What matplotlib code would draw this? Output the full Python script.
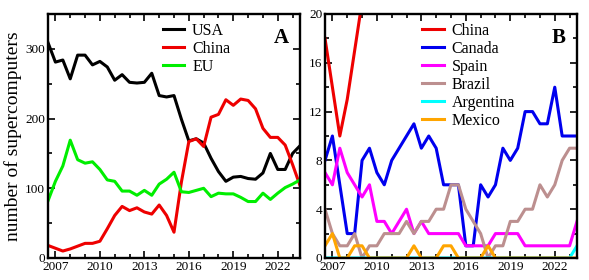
import numpy as np
import matplotlib
matplotlib.use("Agg")
from matplotlib import pyplot as plt
from matplotlib.ticker import MultipleLocator

plt.rcParams["font.family"] = ["Liberation Serif", "DejaVu Serif"]

# TOP500 lists, two per year
years = np.arange(2006.5, 2024.0, 0.5)

# panel A
usa = [309, 281, 284, 257, 291, 291, 277, 282, 274, 255, 263, 252, 251, 252, 265, 233, 231, 233,
       199, 168, 171, 165, 143, 124, 110, 116, 117, 114, 113, 122, 150, 127, 127, 150, 161]
china = [18, 14, 10, 13, 17, 21, 21, 24, 42, 61, 74, 68, 72, 66, 63, 76, 61, 37,
         109, 167, 171, 160, 202, 206, 227, 219, 228, 226, 214, 186, 173, 173, 162, 134, 104]
eu = [82, 110, 132, 169, 141, 136, 138, 127, 112, 110, 96, 96, 90, 97, 90, 106, 113, 123,
      95, 94, 97, 100, 88, 93, 92, 92, 87, 81, 81, 93, 84, 93, 101, 106, 112]

# panel B
canada = [8, 10, 6, 2, 2, 8, 9, 7, 6, 8, 9, 10, 11, 9, 10, 9, 6, 6,
          6, 1, 1, 6, 5, 6, 9, 8, 9, 12, 12, 11, 11, 14, 10, 10, 10]
spain = [7, 6, 9, 7, 6, 5, 6, 3, 3, 2, 3, 4, 2, 3, 2, 2, 2, 2,
         2, 1, 1, 1, 1, 2, 2, 2, 2, 1, 1, 1, 1, 1, 1, 1, 3]
brazil = [4, 2, 1, 1, 2, 0, 1, 1, 2, 2, 2, 3, 2, 3, 3, 4, 4, 6,
          6, 4, 3, 2, 0, 1, 1, 3, 3, 4, 4, 6, 5, 6, 8, 9, 9]
argentina = [0, 0, 0, 0, 0, 0, 0, 0, 0, 0, 0, 0, 0, 0, 0, 0, 0, 0,
             0, 0, 0, 0, 0, 0, 0, 0, 0, 0, 0, 0, 0, 0, 0, 0, 1]
mexico = [1, 2, 0, 0, 1, 1, 0, 0, 0, 0, 0, 0, 1, 0, 0, 0, 1, 1,
          0, 0, 0, 0, 1, 0, 0, 0, 0, 0, 0, 0, 0, 0, 0, 0, 0]

lw = 2.2
fig = plt.figure(figsize=(5.89, 2.8), dpi=100)
axA = fig.add_axes([48 / 589, 22 / 280, 252 / 589, 244 / 280])
axB = fig.add_axes([325 / 589, 22 / 280, 252 / 589, 244 / 280])

axA.plot(years, usa, color="black", lw=lw, label="USA")
axA.plot(years, china, color="#ee0000", lw=lw, label="China")
axA.plot(years, eu, color="#00ee00", lw=lw, label="EU")
axA.set_ylim(0, 350)
axA.yaxis.set_major_locator(MultipleLocator(100))
axA.yaxis.set_minor_locator(MultipleLocator(50))
axA.set_ylabel("number of supercomputers", fontsize=14, labelpad=2)

axB.plot(years, china, color="#ee0000", lw=lw, label="China")
axB.plot(years, canada, color="#0000ee", lw=lw, label="Canada")
axB.plot(years, spain, color="#ff00ff", lw=lw, label="Spain")
axB.plot(years, brazil, color="#bc8f8f", lw=lw, label="Brazil")
axB.plot(years, argentina, color="#00ffff", lw=lw, label="Argentina")
axB.plot(years, mexico, color="#ffa500", lw=lw, label="Mexico")
axB.set_ylim(0, 20)
axB.yaxis.set_major_locator(MultipleLocator(4))
axB.yaxis.set_minor_locator(MultipleLocator(2))

for ax, letter, lx in [(axA, "A", 0.455), (axB, "B", 0.385)]:
    ax.set_xlim(2006.5, 2023.5)
    ax.xaxis.set_major_locator(MultipleLocator(3))
    ax.xaxis.set_minor_locator(MultipleLocator(1))
    ax.tick_params(which="both", direction="in", top=True, right=True, width=1.2, labelsize=9.5, pad=2)
    ax.tick_params(which="major", length=5)
    ax.tick_params(which="minor", length=3)
    for s in ax.spines.values():
        s.set_linewidth(1.7)
    ax.text(0.955, 0.9, letter, transform=ax.transAxes, fontsize=15, fontweight="bold",
            ha="right", va="center")
    ax.legend(loc="upper left", bbox_to_anchor=(lx, 0.965), frameon=False, fontsize=11.5,
              handlelength=1.35, handletextpad=0.5, labelspacing=0.13, borderpad=0,
              borderaxespad=0)

fig.savefig("out.png", dpi=100)
